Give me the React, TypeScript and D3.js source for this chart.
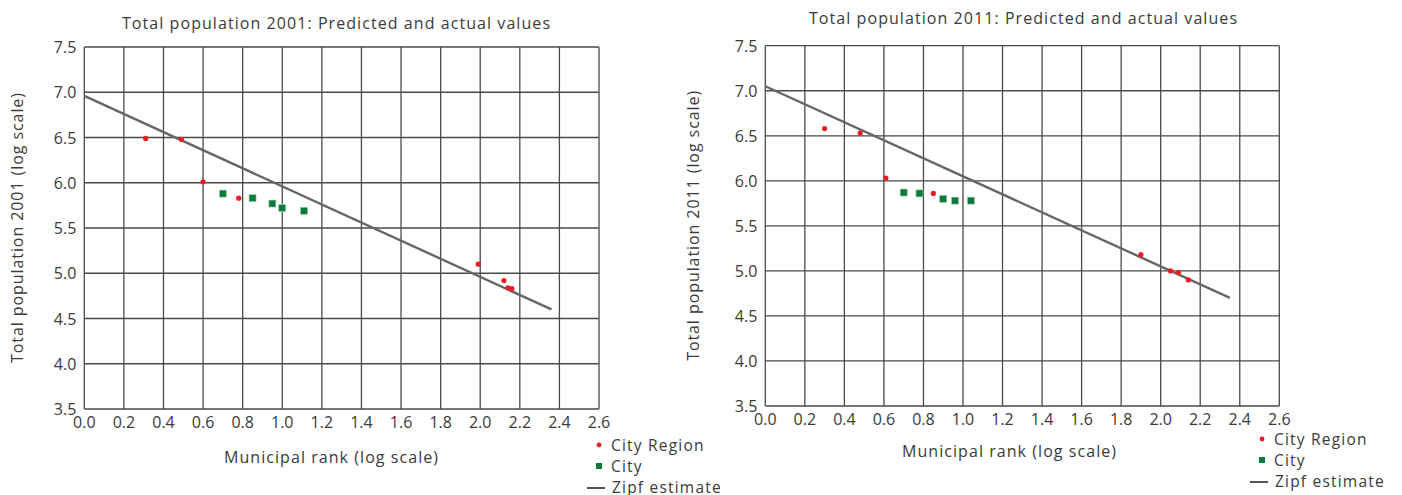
import * as d3 from "d3";

// ticks shared by both panels
const xTicks = [0, 0.2, 0.4, 0.6, 0.8, 1.0, 1.2, 1.4, 1.6, 1.8, 2.0, 2.2, 2.4, 2.6];
const yTicks = [3.5, 4.0, 4.5, 5.0, 5.5, 6.0, 6.5, 7.0, 7.5];

// 2001
const region2001Rank = [0.31, 0.49, 0.6, 0.78, 1.99, 2.12, 2.14, 2.16];
const region2001Pop = [6.49, 6.48, 6.01, 5.83, 5.1, 4.92, 4.84, 4.83];
const city2001Rank = [0.7, 0.85, 0.95, 1.0, 1.11];
const city2001Pop = [5.88, 5.83, 5.77, 5.72, 5.69];
const zipf2001Rank = [0, 2.36];
const zipf2001Pop = [6.96, 4.6];

// 2011
const region2011Rank = [0.3, 0.48, 0.61, 0.85, 1.9, 2.05, 2.09, 2.14];
const region2011Pop = [6.58, 6.53, 6.03, 5.86, 5.18, 5.0, 4.98, 4.9];
const city2011Rank = [0.7, 0.78, 0.9, 0.96, 1.04];
const city2011Pop = [5.87, 5.86, 5.8, 5.78, 5.78];
const zipf2011Rank = [0, 2.35];
const zipf2011Pop = [7.05, 4.7];

const FONT = "'Open Sans', 'DejaVu Sans', sans-serif";
const TEXT = "#3a3a3a";
const GRID = "#4a4a4a";

type PanelProps = {
  title: string;
  yLabel: string;
  left: number;
  right: number;
  top: number;
  bottom: number;
  titleX: number;
  titleY: number;
  yLabelX: number;
  xLabelX: number;
  xLabelY: number;
  legendX: number;
  legendY: number;
  regionRank: number[];
  regionPop: number[];
  cityRank: number[];
  cityPop: number[];
  zipfRank: number[];
  zipfPop: number[];
};

function Panel(p: PanelProps) {
  const x = d3.scaleLinear().domain([0, 2.6]).range([p.left, p.right]);
  const y = d3.scaleLinear().domain([3.5, 7.5]).range([p.bottom, p.top]);
  const line = d3
    .line<number>()
    .x((d) => x(p.zipfRank[d]))
    .y((d) => y(p.zipfPop[d]));
  const yMid = (p.top + p.bottom) / 2;

  return (
    <g fontFamily={FONT} fill={TEXT}>
      <text
        x={p.titleX}
        y={p.titleY}
        textAnchor="middle"
        fontSize={16}
        textLength={428}
        lengthAdjust="spacing"
      >
        {p.title}
      </text>

      {xTicks.map((t) => (
        <line key={"gx" + t} x1={x(t)} x2={x(t)} y1={p.top} y2={p.bottom} stroke={GRID} strokeWidth={1.3} />
      ))}
      {yTicks.map((t) => (
        <line key={"gy" + t} x1={p.left} x2={p.right} y1={y(t)} y2={y(t)} stroke={GRID} strokeWidth={1.3} />
      ))}

      {xTicks.map((t) => (
        <text key={"tx" + t} x={x(t)} y={p.bottom + 19} textAnchor="middle" fontSize={16}>
          {t.toFixed(1)}
        </text>
      ))}
      {yTicks.map((t) => (
        <text key={"ty" + t} x={p.left - 8} y={y(t) + 6} textAnchor="end" fontSize={16}>
          {t.toFixed(1)}
        </text>
      ))}

      <path d={line([0, 1]) ?? ""} stroke="#666" strokeWidth={2.4} fill="none" />

      {p.regionRank.map((r, i) => (
        <circle key={"r" + i} cx={x(r)} cy={y(p.regionPop[i])} r={2.6} fill="#ed1c24" />
      ))}
      {p.cityRank.map((r, i) => (
        <rect
          key={"c" + i}
          x={x(r) - 3.5}
          y={y(p.cityPop[i]) - 3.5}
          width={7}
          height={7}
          fill="#0b7a3b"
          stroke="#9fcfae"
          strokeWidth={0.6}
        />
      ))}

      <text
        transform={`translate(${p.yLabelX},${yMid}) rotate(-90)`}
        textAnchor="middle"
        fontSize={16}
        textLength={270}
        lengthAdjust="spacing"
      >
        {p.yLabel}
      </text>
      <text
        x={p.xLabelX}
        y={p.xLabelY}
        textAnchor="middle"
        fontSize={16}
        textLength={214}
        lengthAdjust="spacing"
      >
        Municipal rank (log scale)
      </text>

      <g transform={`translate(${p.legendX},${p.legendY})`} fontSize={15.5} letterSpacing={1.2}>
        <circle cx={0} cy={0} r={2.4} fill="#ed1c24" />
        <text x={12} y={6}>City Region</text>
        <rect x={-3} y={18} width={6} height={6} fill="#0b7a3b" />
        <text x={12} y={27}>City</text>
        <line x1={-12} x2={6} y1={43} y2={43} stroke="#555" strokeWidth={2} />
        <text x={13} y={48}>Zipf estimate</text>
      </g>
    </g>
  );
}

export default function App() {
  return (
    <svg
      width={1402}
      height={495}
      style={{ position: "absolute", left: 0, top: 0, background: "#fff" }}
    >
      <Panel
        title="Total population 2001: Predicted and actual values"
        yLabel="Total population 2001 (log scale)"
        left={84.3}
        right={599}
        top={47}
        bottom={409}
        titleX={336}
        titleY={29}
        yLabelX={23}
        xLabelX={331}
        xLabelY={463}
        legendX={599}
        legendY={445}
        regionRank={region2001Rank}
        regionPop={region2001Pop}
        cityRank={city2001Rank}
        cityPop={city2001Pop}
        zipfRank={zipf2001Rank}
        zipfPop={zipf2001Pop}
      />
      <Panel
        title="Total population 2011: Predicted and actual values"
        yLabel="Total population 2011 (log scale)"
        left={765.3}
        right={1279.3}
        top={45.7}
        bottom={406}
        titleX={1023}
        titleY={24}
        yLabelX={699}
        xLabelX={1009}
        xLabelY={457}
        legendX={1262}
        legendY={439}
        regionRank={region2011Rank}
        regionPop={region2011Pop}
        cityRank={city2011Rank}
        cityPop={city2011Pop}
        zipfRank={zipf2011Rank}
        zipfPop={zipf2011Pop}
      />
    </svg>
  );
}
